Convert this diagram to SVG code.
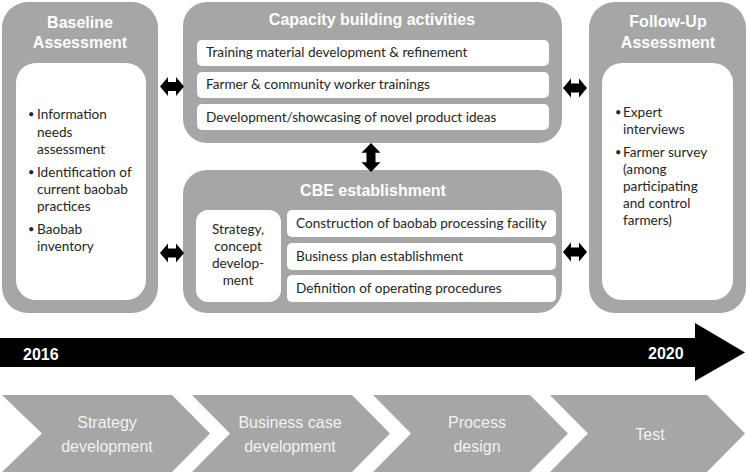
<svg xmlns="http://www.w3.org/2000/svg" width="747" height="474" viewBox="0 0 747 474">
<style>
.box{fill:#a6a6a6}
.inner{fill:#ffffff}
.title{font-family:"Liberation Sans",Arial,sans-serif;font-weight:bold;font-size:16px;fill:#ffffff;text-anchor:middle}
.body{font-family:Lato,"Noto Sans",sans-serif;font-size:13.6px;fill:#262626}
.bul{font-family:Lato,"Noto Sans",sans-serif;font-size:11px;fill:#262626}
.mid{text-anchor:middle}
.arrow{fill:#000000}
.chev{fill:#a6a6a6}
.chevtxt{font-family:"Liberation Sans",Arial,sans-serif;font-size:16px;fill:#f2f2f2;text-anchor:middle}
.year{font-family:"Liberation Sans",Arial,sans-serif;font-weight:bold;font-size:16px;fill:#ffffff}
</style>
<defs>
<polygon id="harrow" points="-12,0 -4,-9.5 -4,-4.5 4,-4.5 4,-9.5 12,0 4,9.5 4,4.5 -4,4.5 -4,9.5"/>
</defs>
<rect width="747" height="474" fill="#ffffff"/>

<g id="baseline">
<rect class="box" x="2" y="2" width="156" height="311" rx="26"/>
<text class="title" x="80" y="28">Baseline</text>
<text class="title" x="80" y="48">Assessment</text>
<rect class="inner" x="16" y="63" width="130" height="237" rx="20"/>
<g class="bul">
<text x="28" y="118">•</text>
<text x="28" y="176">•</text>
<text x="28" y="233">•</text>
</g>
<g class="body">
<text x="37" y="119">Information</text>
<text x="37" y="137">needs</text>
<text x="37" y="154">assessment</text>
<text x="37" y="177">Identification of</text>
<text x="37" y="194">current baobab</text>
<text x="37" y="211">practices</text>
<text x="37" y="234">Baobab</text>
<text x="37" y="251">inventory</text>
</g>
</g>

<g id="capacity">
<rect class="box" x="183" y="2" width="379" height="141" rx="24"/>
<text class="title" x="372" y="25">Capacity building activities</text>
<rect class="inner" x="197" y="40" width="352" height="26" rx="5"/>
<rect class="inner" x="197" y="72" width="352" height="26" rx="5"/>
<rect class="inner" x="197" y="104" width="352" height="26" rx="5"/>
<text class="body" x="206" y="57">Training material development &amp; refinement</text>
<text class="body" x="206" y="89">Farmer &amp; community worker trainings</text>
<text class="body" x="206" y="122">Development/showcasing of novel product ideas</text>
</g>

<g id="cbe">
<rect class="box" x="183" y="170" width="379" height="143" rx="24"/>
<text class="title" x="373" y="196">CBE establishment</text>
<rect class="inner" x="196" y="210" width="85" height="92" rx="12"/>
<g class="body mid">
<text x="238" y="234">Strategy,</text>
<text x="238" y="251">concept</text>
<text x="238" y="268">develop-</text>
<text x="238" y="285">ment</text>
</g>
<rect class="inner" x="287" y="210" width="269" height="27" rx="5"/>
<rect class="inner" x="287" y="243" width="269" height="27" rx="5"/>
<rect class="inner" x="287" y="275" width="269" height="27" rx="5"/>
<text class="body" x="296" y="228">Construction of baobab processing facility</text>
<text class="body" x="296" y="261">Business plan establishment</text>
<text class="body" x="296" y="293">Definition of operating procedures</text>
</g>

<g id="followup">
<rect class="box" x="589" y="2" width="157" height="311" rx="26"/>
<text class="title" x="668" y="27">Follow-Up</text>
<text class="title" x="668" y="48">Assessment</text>
<rect class="inner" x="602" y="63" width="131" height="237" rx="20"/>
<g class="bul">
<text x="615" y="116">•</text>
<text x="615" y="156">•</text>
</g>
<g class="body">
<text x="623" y="117">Expert</text>
<text x="623" y="134">interviews</text>
<text x="623" y="157">Farmer survey</text>
<text x="623" y="174">(among</text>
<text x="623" y="191">participating</text>
<text x="623" y="208">and control</text>
<text x="623" y="225">farmers)</text>
</g>
</g>

<g id="connectors" class="arrow">
<use href="#harrow" x="172" y="86.5"/>
<use href="#harrow" x="172" y="253"/>
<use href="#harrow" x="575" y="88"/>
<use href="#harrow" x="575" y="252"/>
<use href="#harrow" transform="translate(371,157.5) rotate(90) scale(1.2,1)"/>
</g>

<g id="timeline">
<polygon fill="#000000" points="0,338 695,338 695,323 745,352.5 695,381 695,367 0,367"/>
<text class="year" x="23" y="360">2016</text>
<text class="year" x="648" y="359">2020</text>
</g>

<g id="phases">
<g id="phase1">
<polygon class="chev" points="2,395 172,395 210,433.5 172,472 2,472 42,433.5"/>
<text class="chevtxt" x="107" y="428">Strategy</text>
<text class="chevtxt" x="107" y="452">development</text>
</g>
<g id="phase2">
<polygon class="chev" points="192,395 352,395 390,433.5 352,472 192,472 230,433.5"/>
<text class="chevtxt" x="290" y="428">Business case</text>
<text class="chevtxt" x="290" y="452">development</text>
</g>
<g id="phase3">
<polygon class="chev" points="373,395 530,395 568,433.5 530,472 373,472 411,433.5"/>
<text class="chevtxt" x="477" y="428">Process</text>
<text class="chevtxt" x="477" y="452">design</text>
</g>
<g id="phase4">
<polygon class="chev" points="550,395 707,395 745,433.5 707,472 550,472 588,433.5"/>
<text class="chevtxt" x="650" y="440">Test</text>
</g>
</g>
</svg>
